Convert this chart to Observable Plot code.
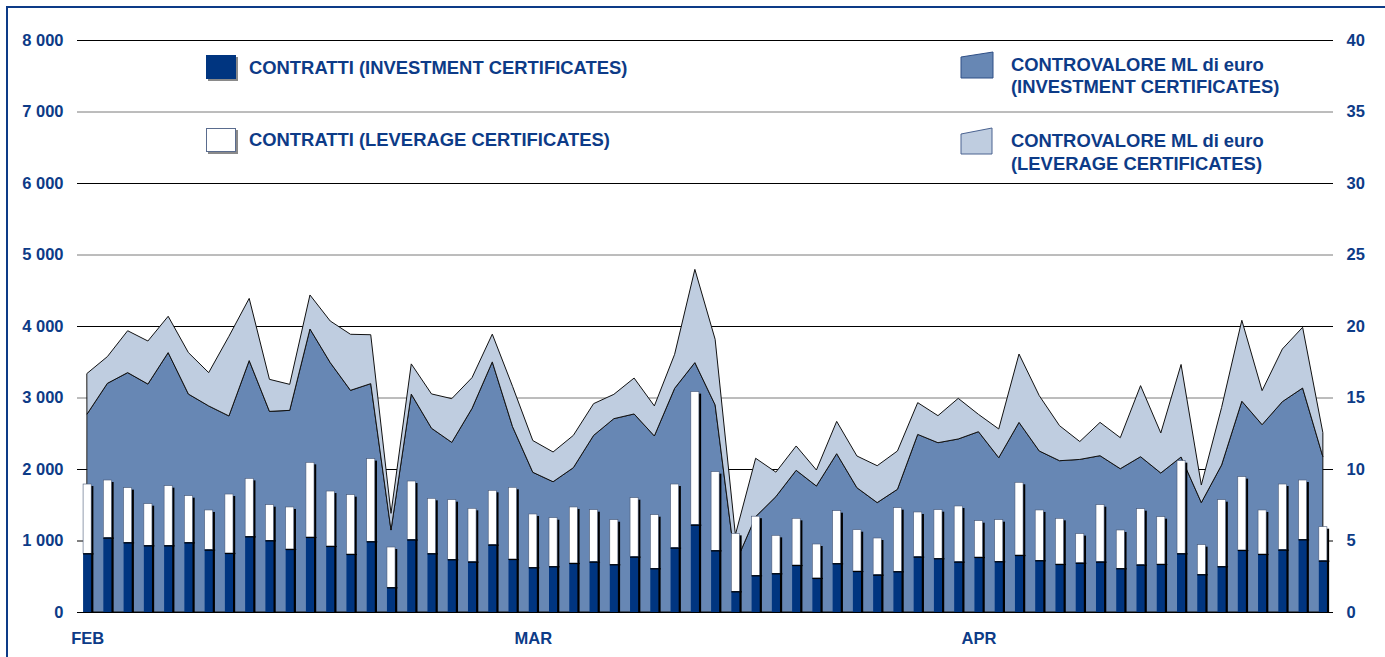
<!DOCTYPE html>
<html>
<head>
<meta charset="utf-8">
<script src="https://cdn.jsdelivr.net/npm/d3@7"></script>
<script src="https://cdn.jsdelivr.net/npm/@observablehq/plot@0.6"></script>
<style>
  html, body { margin: 0; padding: 0; background: #fff; }
  #wrap { position: relative; width: 1385px; height: 657px; overflow: hidden; font-family: "Liberation Sans", Arial, sans-serif; }
  #frame { position: absolute; left: 6px; top: 6px; width: 1400px; height: 700px; border-top: 2px solid #0d3b87; border-left: 2px solid #0d3b87; }
  .lg { position: absolute; font-weight: bold; font-size: 18.4px; line-height: 22.7px; color: #0d3b87; white-space: nowrap; }
  .sw { position: absolute; }
</style>
</head>
<body>
<div id="wrap">
  <div id="frame"></div>
</div>
<script>
// ---- data ----
const months = ["FEB", "MAR", "APR"];
const monthStart = [0, 22, 44];            // trading-day index of the first day of each month

// number of contracts (left axis)
const invContracts = [820,1040,974,932,932,974,872,825,1058,1002,881,1049,923,811,988,345,1014,820,737,704,
  942,741,625,639,685,704,667,774,611,900,1221,862,289,513,541,657,476,681,573,522,
  569,774,751,704,769,709,797,723,671,688,704,611,662,671,820,527,639,867,811,872,1016,718];
const levContracts = [970,806,765,583,835,653,555,825,811,499,588,1044,769,830,1157,564,818,770,834,746,
  760,1003,746,680,784,727,624,825,750,890,1861,1101,811,827,531,653,475,736,578,513,
  890,625,680,779,508,582,1017,704,639,408,797,536,783,662,1297,415,932,1026,616,918,830,475];

// traded value, millions of euro (right axis)
const invValue = [13.85,15.99,16.74,15.94,18.14,15.24,14.41,13.71,17.58,14.03,14.10,19.79,17.44,15.50,15.97,5.73,15.24,12.85,11.86,14.24,
  17.49,12.96,9.77,9.11,10.09,12.35,13.52,13.85,12.31,15.64,17.44,14.48,3.40,6.67,8.07,9.91,8.81,11.07,8.69,7.65,
  8.58,12.42,11.84,12.10,12.61,10.79,13.26,11.26,10.58,10.67,10.93,10.02,10.86,9.72,10.84,7.65,10.28,14.74,13.10,14.71,15.66,10.86];
const levValue = [2.84,1.87,2.93,3.01,2.54,2.90,2.33,5.57,4.35,2.24,1.82,2.38,2.91,3.92,3.42,1.17,2.11,2.40,3.06,2.15,
  1.94,2.82,2.22,2.08,2.26,2.22,1.70,2.51,2.10,2.38,6.52,4.59,2.00,4.08,1.71,1.70,1.12,2.26,2.22,2.58,
  2.68,2.22,1.89,2.84,1.21,2.01,4.78,3.87,2.45,1.25,2.33,2.17,4.97,2.80,6.47,1.23,4.02,5.66,2.38,3.68,4.25,1.68];

const leftTicks = d3.range(0, 8001, 1000);
const rightTicks = d3.range(0, 41, 5);
const RATIO = 8000 / 40;                    // right axis -> left axis units
const HALF = 0.2;                           // half bar width in day units

const rows = invContracts.map((ic, i) => ({
  i, ic, lc: levContracts[i],
  iv: invValue[i] * RATIO,
  tv: (invValue[i] + levValue[i]) * RATIO
}));

const TXT = "#0d3b87";
const fmtLeft = d => d3.format(",")(d).replace(/,/g, " ");

const chart = Plot.plot({
  width: 1385,
  height: 657,
  marginTop: 40,
  marginBottom: 45,
  marginLeft: 77,
  marginRight: 52,
  x: {type: "linear", domain: [-0.5, 61.5], axis: null, label: null},
  y: {domain: [0, 8000], axis: null, label: null},
  style: {
    fontFamily: "'Liberation Sans', Arial, sans-serif",
    fontSize: "16.5px",
    fontWeight: "bold",
    color: TXT,
    background: "transparent",
    overflow: "visible"
  },
  marks: [
    // grid
    Plot.ruleY(leftTicks, {
      y: d => d, x1: -0.5, x2: 61.5,
      stroke: d => (d === 3000 || d === 5000 || d === 7000) ? "#7a7a7a" : "#000",
      strokeWidth: 1
    }),
    // stacked areas (traded value)
    Plot.areaY(rows, {x: "i", y1: 0, y2: "iv", fill: "#6787b4", stroke: "#111", strokeWidth: 1}),
    Plot.areaY(rows, {x: "i", y1: "iv", y2: "tv", fill: "#bfcde0", stroke: "#111", strokeWidth: 1}),
    // bar shadows
    Plot.rectY(rows, {x1: d => d.i - HALF, x2: d => d.i + HALF, y1: 0, y2: d => d.ic + d.lc,
      fill: "#000", dx: 2.2, insetTop: 2}),
    // stacked bars (contracts)
    Plot.rectY(rows, {x1: d => d.i - HALF, x2: d => d.i + HALF, y1: "ic", y2: d => d.ic + d.lc,
      fill: "#fff", stroke: "#4a5a78", strokeWidth: 0.6}),
    Plot.rectY(rows, {x1: d => d.i - HALF, x2: d => d.i + HALF, y1: 0, y2: "ic", fill: "#003580"}),
    Plot.ruleY(rows, {y: "ic", x1: d => d.i - HALF, x2: d => d.i + HALF + 0.12, stroke: "#000", strokeWidth: 1.2}),
    // baseline
    Plot.ruleY([0], {x1: -0.5, x2: 61.5, stroke: "#000", strokeWidth: 1.2}),
    // axes
    Plot.axisY(leftTicks, {anchor: "left", tickSize: 0, tickPadding: 14, tickFormat: fmtLeft, label: null}),
    Plot.axisY(rightTicks.map(v => v * RATIO), {anchor: "right", tickSize: 0, tickPadding: 13,
      tickFormat: d => String(d / RATIO), label: null}),
    Plot.axisX(monthStart, {anchor: "bottom", tickSize: 0, tickPadding: 20,
      tickFormat: (d, k) => months[k], label: null})
  ]
});
chart.style.position = "absolute";
chart.style.left = "0px";
chart.style.top = "0px";
const wrap = document.getElementById("wrap");
wrap.appendChild(chart);

// ---- legend (overlaid inside the plot area) ----
const legendHtml = `
  <div class="sw" style="left:208px;top:57px;width:30px;height:24px;background:#8a8a8a;"></div>
  <div class="sw" style="left:206px;top:55px;width:30px;height:24px;background:#003580;"></div>
  <div class="lg" style="left:249px;top:56.5px;">CONTRATTI (INVESTMENT CERTIFICATES)</div>

  <div class="sw" style="left:208px;top:130px;width:30px;height:24px;background:#8a8a8a;"></div>
  <div class="sw" style="left:206px;top:128px;width:28px;height:22px;background:#fff;border:1px solid #5a6c8e;"></div>
  <div class="lg" style="left:249px;top:129.3px;">CONTRATTI (LEVERAGE CERTIFICATES)</div>

  <svg class="sw" style="left:955px;top:45px;" width="45" height="120">
    <polygon points="6,12 38,7 38,33 6,33" fill="#6787b4" stroke="#2f4f86" stroke-width="1"/>
    <polygon points="6,89 37,83 37,109 6,109" fill="#bfcde0" stroke="#4a6290" stroke-width="1"/>
  </svg>
  <div class="lg" style="left:1011px;top:53.5px;">CONTROVALORE ML di euro<br>(INVESTMENT CERTIFICATES)</div>
  <div class="lg" style="left:1011px;top:129.8px;">CONTROVALORE ML di euro<br>(LEVERAGE CERTIFICATES)</div>
`;
wrap.insertAdjacentHTML("beforeend", legendHtml);
</script>
</body>
</html>
